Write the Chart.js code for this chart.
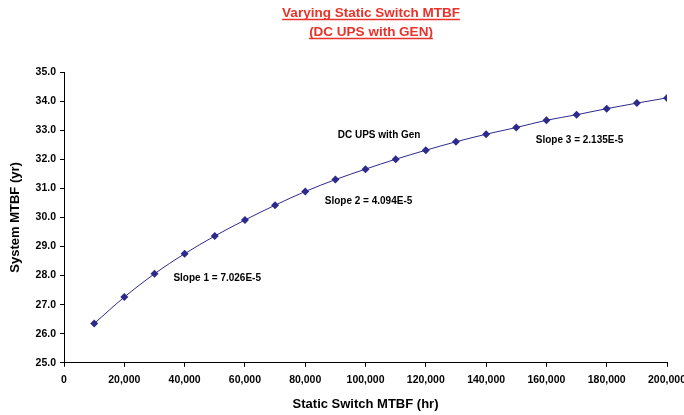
<!DOCTYPE html>
<html>
<head>
<meta charset="utf-8">
<script src="https://cdn.jsdelivr.net/npm/chart.js@4/dist/chart.umd.min.js"></script>
<style>
  html, body { margin: 0; padding: 0; background: #fff; }
  #wrap { width: 684px; height: 415px; position: relative; }
</style>
</head>
<body>
<div id="wrap"><canvas id="chart" width="684" height="415"></canvas></div>
<script>
// data
const switchMtbf = [10000, 20000, 30000, 40000, 50000, 60000, 70000, 80000, 90000, 100000,
                    110000, 120000, 130000, 140000, 150000, 160000, 170000, 180000, 190000, 200000];
const systemMtbf = [26.35, 27.26, 28.06, 28.75, 29.36, 29.91, 30.42, 30.89, 31.30, 31.66,
                    32.00, 32.31, 32.60, 32.86, 33.09, 33.34, 33.53, 33.74, 33.93, 34.11];
const titleLines = ["Varying Static Switch MTBF", "(DC UPS with GEN)"];
const notes = [
  { text: "DC UPS with Gen",     x: 104500, y: 32.84 },
  { text: "Slope 3 = 2.135E-5",  x: 171000, y: 32.66 },
  { text: "Slope 2 = 4.094E-5",  x: 101000, y: 30.57 },
  { text: "Slope 1 = 7.026E-5",  x: 50800,  y: 27.92 }
];

const FONT = "'Liberation Sans', Arial, sans-serif";
const LINE_COLOR = "#2e2a8c";

// title with underline + text notes drawn in data coords
const extrasPlugin = {
  id: "extras",
  afterDraw(chart) {
    const ctx = chart.ctx;
    ctx.save();
    ctx.fillStyle = "#e8322a";
    ctx.strokeStyle = "#e8322a";
    ctx.font = "bold 13.5px " + FONT;
    ctx.textAlign = "center";
    ctx.textBaseline = "alphabetic";
    const cx = 371;
    titleLines.forEach((t, i) => {
      const y = 17 + i * 19;
      ctx.fillText(t, cx, y);
      const w = ctx.measureText(t).width;
      ctx.lineWidth = 1.3;
      ctx.beginPath();
      ctx.moveTo(cx - w / 2, y + 2.5);
      ctx.lineTo(cx + w / 2, y + 2.5);
      ctx.stroke();
    });

    const xs = chart.scales.x, ys = chart.scales.y;
    ctx.fillStyle = "#000";
    ctx.font = "bold 10px " + FONT;
    ctx.textBaseline = "middle";
    notes.forEach(n => {
      ctx.fillText(n.text, xs.getPixelForValue(n.x), ys.getPixelForValue(n.y));
    });
    ctx.restore();
  }
};

new Chart(document.getElementById("chart"), {
  type: "line",
  data: {
    datasets: [{
      data: switchMtbf.map((x, i) => ({ x, y: systemMtbf[i] })),
      borderColor: LINE_COLOR,
      backgroundColor: LINE_COLOR,
      borderWidth: 1,
      pointStyle: "rectRot",
      pointRadius: 4,
      pointBorderWidth: 0,
      cubicInterpolationMode: "monotone",
      fill: false
    }]
  },
  options: {
    responsive: false,
    animation: false,
    layout: { padding: { top: 72, right: 0, left: 4, bottom: 0 } },
    plugins: { legend: { display: false }, tooltip: { enabled: false } },
    scales: {
      x: {
        type: "linear",
        min: 0, max: 200000,
        border: { color: "#000", width: 1 },
        grid: { drawOnChartArea: false, color: "#000", tickLength: 4 },
        ticks: {
          stepSize: 20000, color: "#000", padding: 7, maxRotation: 0,
          font: { family: FONT, size: 10.5, weight: "bold" },
          callback: v => v.toLocaleString("en-US")
        },
        // last label runs to the edge like the original, so keep a fixed right margin
        afterFit: scale => { scale.paddingRight = 17; },
        title: {
          display: true, text: "Static Switch MTBF (hr)", color: "#000",
          font: { family: FONT, size: 13, weight: "bold" }, padding: { top: 3, bottom: 3 }
        }
      },
      y: {
        min: 25, max: 35,
        border: { color: "#000", width: 1 },
        grid: { drawOnChartArea: false, color: "#000", tickLength: 4 },
        ticks: {
          stepSize: 1, color: "#000", padding: 4,
          font: { family: FONT, size: 10.5, weight: "bold" },
          callback: v => v.toFixed(1)
        },
        title: {
          display: true, text: "System MTBF (yr)", color: "#000",
          font: { family: FONT, size: 13, weight: "bold" }, padding: { bottom: 8 }
        }
      }
    }
  },
  plugins: [extrasPlugin]
});
</script>
</body>
</html>
